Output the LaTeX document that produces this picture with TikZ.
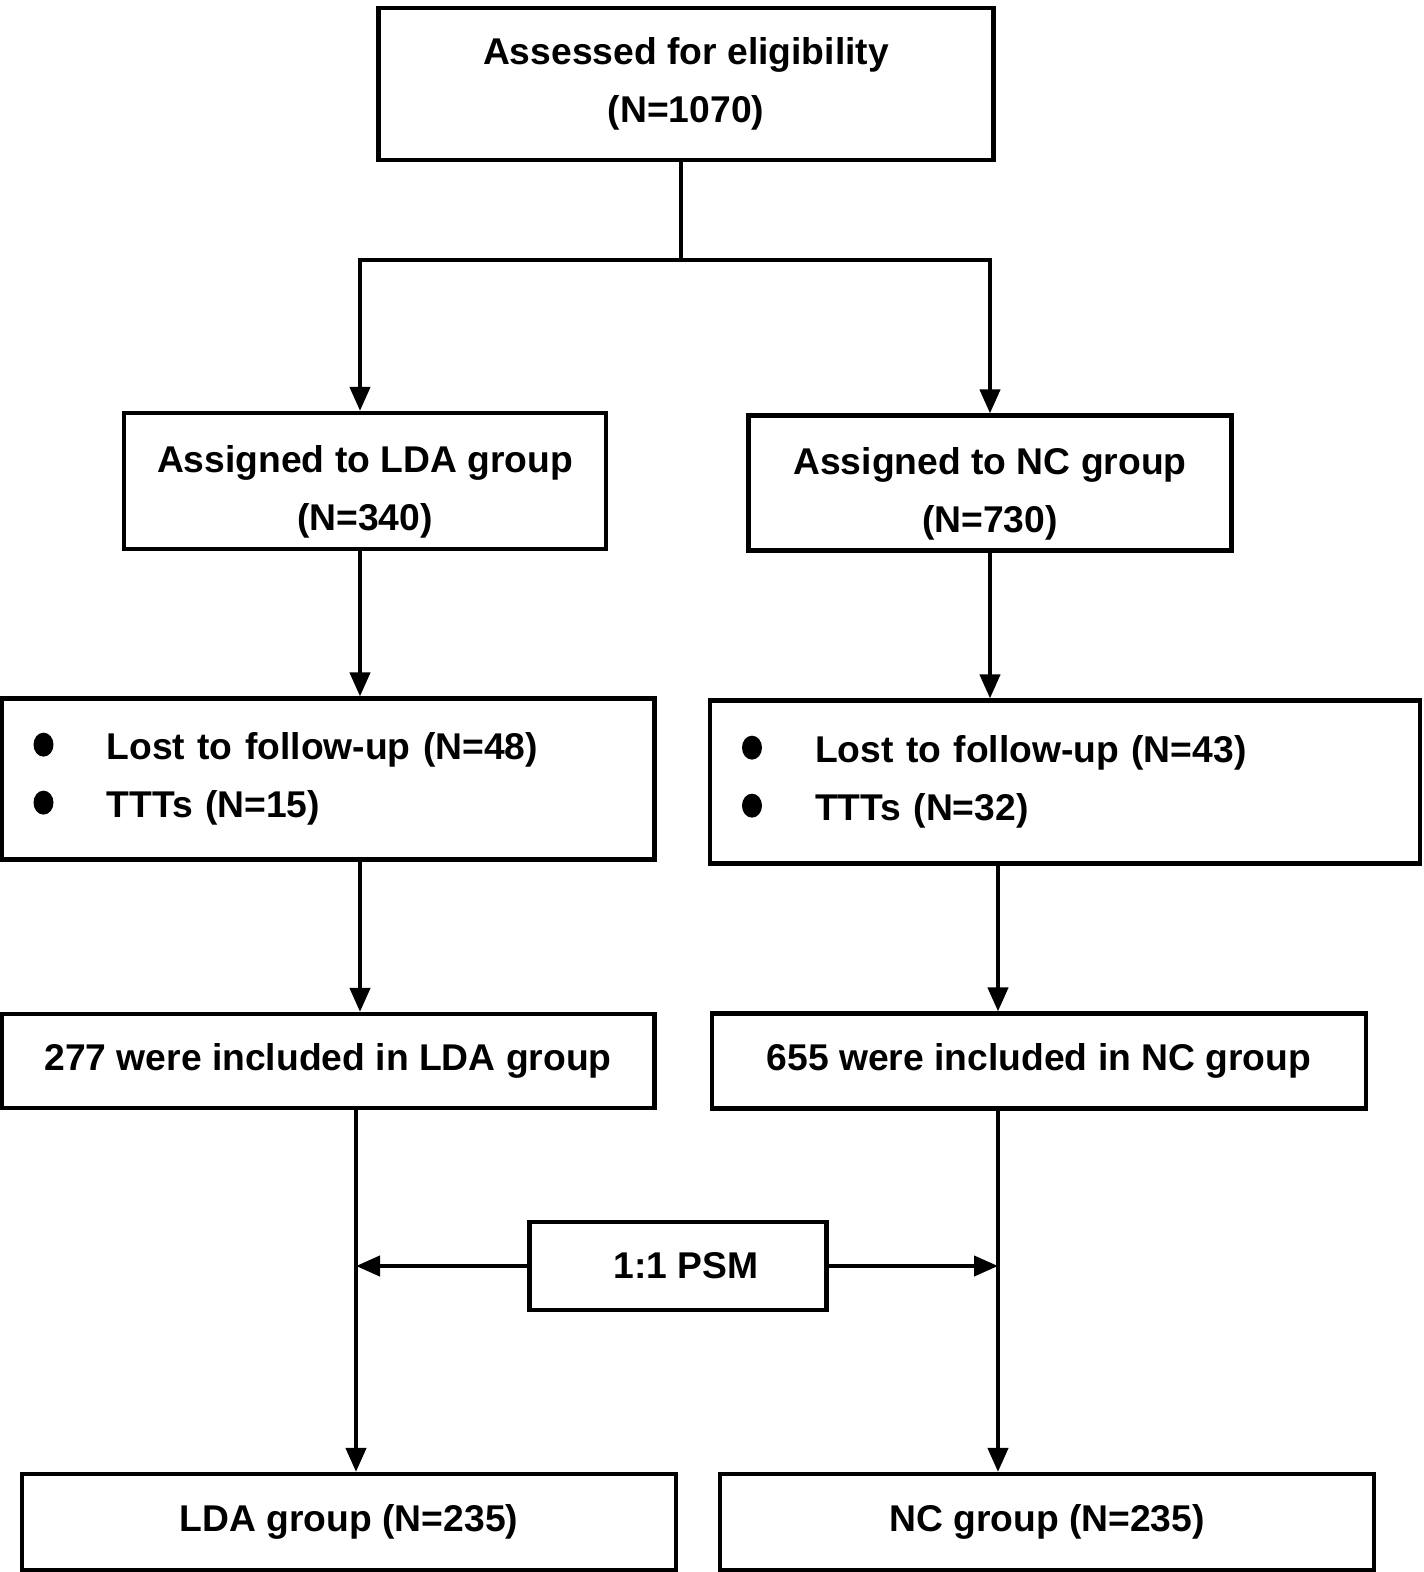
\documentclass[tikz,border=0pt]{standalone}
\usepackage{fontspec}
\setmainfont{Liberation Sans}
\usetikzlibrary{arrows.meta, positioning}
\tikzset{box/.style={draw, line width=1.2pt, inner sep=0pt, align=center, font=\fontsize{10.6}{16.5}\selectfont\bfseries}}
\tikzset{listbox/.style={box, align=left, inner xsep=0.32cm}}
\tikzset{line/.style={line width=1.2pt, black}}
\tikzset{arr/.style={line, -{Triangle[width=0.2cm, length=0.24cm]}}}
\newcommand{\blt}{\tikz[baseline=-0.15cm]\fill (0,0) ellipse [x radius=0.1cm, y radius=0.12cm];}

\begin{document}
\begin{tikzpicture}
		\useasboundingbox (0,0) rectangle (14.24,-15.72);
		% Boxes
		\node[box, minimum width=6.15cm, minimum height=1.52cm] (top) at (6.86,-0.84) {Assessed for eligibility\\(N=1070)};
		\node[box, minimum width=4.82cm, minimum height=1.36cm, text height=1.07cm] (ldaA) at (3.65,-4.81) {Assigned to LDA group\\(N=340)};
		\node[box, minimum width=4.83cm, minimum height=1.35cm, text height=1.07cm] (ncA) at (9.90,-4.83) {Assigned to NC group\\(N=730)};
		%% Lists
		\node[listbox, text width=5.89cm, minimum height=1.61cm] (ldaL) at (3.28,-7.79)
			{\makebox[0.73cm][l]{\blt}Lost to follow-up (N=48)\\\makebox[0.73cm][l]{\blt}TTTs (N=15)};
		\node[listbox, text width=6.46cm, minimum height=1.63cm] (ncL) at (10.65,-7.82)
			{\makebox[0.73cm][l]{\blt}Lost to follow-up (N=43)\\\makebox[0.73cm][l]{\blt}TTTs (N=32)};
		%% Included
		\node[box, minimum width=6.53cm, minimum height=0.94cm] (lda277) at (3.28,-10.61) {277 were included in LDA group};
		\node[box, minimum width=6.54cm, minimum height=0.95cm] (nc655) at (10.39,-10.61) {655 were included in NC group};
		\node[box, minimum width=2.97cm, minimum height=0.88cm] (psm) at (6.78,-12.66) {\hspace*{0.16cm}1:1 PSM};
		%% Final
		\node[box, minimum width=6.54cm, minimum height=0.96cm] (ldaF) at (3.49,-15.22) {LDA group (N=235)};
		\node[box, minimum width=6.54cm, minimum height=0.96cm] (ncF) at (10.47,-15.22) {NC group (N=235)};

		% Coordinates
		\coordinate (split) at (6.81,-2.60);
		\coordinate (colL) at (3.60,0);
		\coordinate (colLb) at (3.56,0);
		\coordinate (colR) at (9.90,0);
		\coordinate (colRb) at (9.98,0);

		% Arrows
		\draw[line] (top.south -| split) -- (split);
		\draw[arr] (split) -| (ldaA.north -| colL);
		\draw[arr] (split) -| (ncA.north -| colR);
		\draw[arr] (ldaA.south -| colL) -- (ldaL.north -| colL);
		\draw[arr] (ncA.south -| colR) -- (ncL.north -| colR);
		\draw[arr] (ldaL.south -| colL) -- (lda277.north -| colL);
		\draw[arr] (ncL.south -| colRb) -- (nc655.north -| colRb);
		\draw[arr] (lda277.south -| colLb) -- (ldaF.north -| colLb);
		\draw[arr] (nc655.south -| colRb) -- (ncF.north -| colRb);
		%% PSM
		\draw[arr] (psm.west) -- (psm.west -| colLb);
		\draw[arr] (psm.east) -- (psm.east -| colRb);
	\end{tikzpicture}
\end{document}
